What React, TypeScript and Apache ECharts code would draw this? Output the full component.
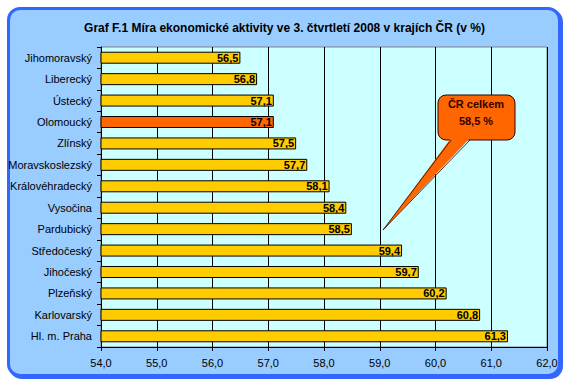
import React, { useEffect, useRef } from "react";
import * as echarts from "echarts";

const categories = [
  "Jihomoravský",
  "Liberecký",
  "Ústecký",
  "Olomoucký",
  "Zlínský",
  "Moravskoslezský",
  "Královéhradecký",
  "Vysočina",
  "Pardubický",
  "Středočeský",
  "Jihočeský",
  "Plzeňský",
  "Karlovarský",
  "Hl. m. Praha",
];
const values = [56.5, 56.8, 57.1, 57.1, 57.5, 57.7, 58.1, 58.4, 58.5, 59.4, 59.7, 60.2, 60.8, 61.3];
const highlighted = "Olomoucký";
const titleText = "Graf F.1 Míra ekonomické aktivity ve 3. čtvrtletí 2008 v krajích ČR (v %)";
const calloutLines = ["ČR celkem", "58,5 %"];

const narrow = '"Liberation Sans Narrow", "Arial Narrow", "Liberation Sans", Arial, sans-serif';
const sans = '"Liberation Sans", Arial, sans-serif';
const fmt = (v: number) => v.toFixed(1).replace(".", ",");

export default function App() {
  const ref = useRef<HTMLDivElement>(null);
  useEffect(() => {
    if (!ref.current) return;
    const chart = echarts.init(ref.current, undefined, { renderer: "svg" });
    chart.setOption({
      animation: false,
      title: {
        text: titleText,
        left: "center",
        top: 17,
        textStyle: { fontFamily: narrow, fontSize: 12, fontWeight: "bold", color: "#000" },
      },
      grid: {
        left: 101,
        right: 22,
        top: 47,
        bottom: 37,
        show: true,
        backgroundColor: "#ccffff",
        borderColor: "#808080",
        borderWidth: 1,
      },
      xAxis: {
        type: "value",
        min: 54,
        max: 62,
        interval: 1,
        axisLine: { show: true, lineStyle: { color: "#000", width: 1 } },
        axisTick: { show: true, length: 4, lineStyle: { color: "#000" } },
        axisLabel: { formatter: fmt, fontFamily: sans, fontSize: 11, color: "#000", margin: 10 },
        splitLine: { show: true, lineStyle: { color: "#000", width: 1 } },
      },
      yAxis: {
        type: "category",
        data: categories,
        inverse: true,
        axisLine: { show: true, lineStyle: { color: "#000", width: 1 } },
        axisTick: { show: true, length: 4, lineStyle: { color: "#000" } },
        axisLabel: { fontFamily: sans, fontSize: 11, color: "#000", margin: 9 },
        splitLine: { show: false },
      },
      series: [
        {
          type: "bar",
          barWidth: 12,
          data: values.map((v, i) => ({
            value: v,
            itemStyle: { color: categories[i] === highlighted ? "#ff6600" : "#ffcc00" },
          })),
          itemStyle: { borderColor: "#000", borderWidth: 1 },
          label: {
            show: true,
            position: "insideRight",
            distance: 2,
            formatter: (p: any) => fmt(p.value),
            fontFamily: narrow,
            fontSize: 11,
            fontWeight: "bold",
            color: "#000",
          },
        },
      ],
      graphic: [
        {
          type: "rect",
          shape: { x: 438, y: 95, width: 77, height: 45, r: 8 },
          style: { fill: "#ff6600", stroke: "#330000", lineWidth: 1 },
          z: 10,
        },
        {
          type: "polygon",
          shape: { points: [[451, 138], [470, 138], [383, 230]] },
          style: { fill: "#ff6600" },
          z: 11,
        },
        {
          type: "polyline",
          shape: { points: [[451, 140], [383, 230], [470, 140]] },
          style: { stroke: "#330000", lineWidth: 0.8, fill: null },
          z: 11,
        },
        {
          type: "text",
          x: 476,
          y: 104,
          style: {
            text: calloutLines[0],
            align: "center",
            verticalAlign: "middle",
            fontFamily: sans,
            fontSize: 11,
            fontWeight: "bold",
            fill: "#330000",
          },
          z: 12,
        },
        {
          type: "text",
          x: 476,
          y: 121,
          style: {
            text: calloutLines[1],
            align: "center",
            verticalAlign: "middle",
            fontFamily: sans,
            fontSize: 11,
            fontWeight: "bold",
            fill: "#330000",
          },
          z: 12,
        },
      ],
    });
    return () => chart.dispose();
  }, []);
  return (
    <div style={{ position: "fixed", left: 0, top: 0, width: 569, height: 384, background: "#fff" }}>
      <div
        style={{
          position: "absolute",
          left: 7,
          top: 7,
          width: 548,
          height: 364,
          border: "3px solid #3366ff",
          borderRadius: 13,
          background: "#99ccff",
          boxShadow: "2px 2px 0 #3366ff",
        }}
      />
      <div ref={ref} style={{ position: "absolute", left: 0, top: 0, width: 569, height: 384 }} />
    </div>
  );
}
